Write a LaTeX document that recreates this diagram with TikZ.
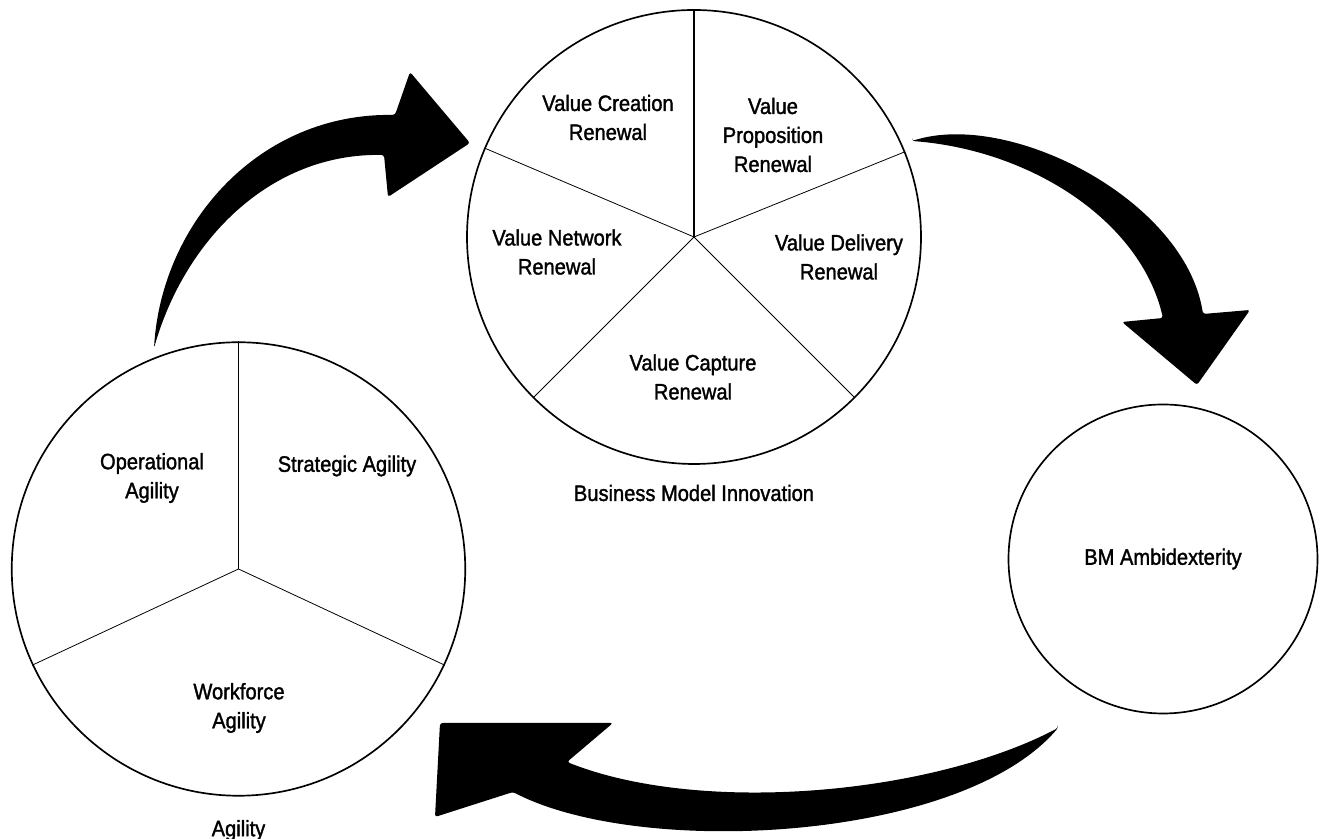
\documentclass[tikz,border=0pt]{standalone}
\usepackage{fontspec}
\setmainfont[FakeStretch=0.9, FakeBold=1.5]{Liberation Sans}
\usetikzlibrary{positioning}
\definecolor{fg}{RGB}{0,0,0}
\definecolor{bg}{RGB}{255,255,255}
\tikzset{
  every picture/.style={fg, line width=0.7pt, line join=round},
  every node/.style={font=\fontsize{12.7}{16.5}\selectfont, align=center},
  % Kreise und Sektoren
  wheel/.style={circle, draw, line width=0.95pt, inner sep=0pt},
  spoke/.style={line width=0.45pt},
  hub/.style={line width=1pt},
  % Pfeile als gefuellte Flaechen
  bigarrow/.style={fill=fg, draw=none, rounded corners=1.5pt},
}

\begin{document}
\begin{tikzpicture}
  \useasboundingbox (0,0) rectangle (26.46,16.78);
  % drei Kreise
  \node[wheel, minimum size=9.08cm] (bmi) at (13.88,12.04) {};
  \node[wheel, minimum size=9.07cm] (agil) at (4.77,5.40) {};
  \node[wheel, minimum size=6.18cm] (amb) at (23.26,5.60) {BM Ambidexterity};
  % Sektoren BMI (fuenf Teile)
  \draw[hub] (bmi.center) -- (bmi.north);
  \foreach \a in {157.5,22.5,225,315}
    \draw[spoke] (bmi.center) -- (bmi.\a);
  % Sektoren Agility (drei Teile)
  \draw[hub] (agil.center) -- (agil.north);
  \foreach \a in {205,335}
    \draw[spoke] (agil.center) -- (agil.\a);
  % Beschriftung der Sektoren
  \node (vcr) at (12.16,14.43) {Value Creation\\Renewal};
  \node (vpr) at (15.46,14.08) {Value\\Proposition\\Renewal};
  \node (vnr) at (11.14,11.74) {Value Network\\Renewal};
  \node (vdr) at (16.78,11.64) {Value Delivery\\Renewal};
  \node (vcp) at (13.86,9.24) {Value Capture\\Renewal};
  \node (opa) at (3.04,7.22) {Operational\\Agility};
  \node (sta) at (6.94,7.46) {Strategic Agility};
  \node (wfa) at (4.78,2.62) {Workforce\\Agility};
  % Titel unter den Kreisen
  \node[below=0.27cm of bmi] (bmilbl) {Business Model Innovation};
  \node[below=0.34cm of agil] (agillbl) {Agility};
  % Pfeil: Agility -> BMI
  \fill[bigarrow] (3.08,9.82) .. controls (3.24,12.34) and (5.20,14.52) .. (7.90,14.48)
    -- (8.20,15.34) -- (9.40,13.92) -- (7.76,12.84) -- (7.68,13.68)
    .. controls (5.40,13.72) and (3.70,11.98) .. cycle;
  % Pfeil: BMI -> Ambidexterity
  \fill[bigarrow] (18.24,13.96) .. controls (20.20,14.58) and (23.70,12.78) .. (24.06,10.50)
    -- (25.00,10.58) -- (23.94,9.08) -- (22.44,10.34) -- (23.26,10.42)
    .. controls (22.80,12.38) and (20.60,13.78) .. cycle;
  % Pfeil: Ambidexterity -> Agility
  \fill[bigarrow] (21.16,2.22) .. controls (18.60,0.88) and (14.00,0.48) .. (11.34,1.54)
    -- (12.26,2.32) -- (8.80,2.32) -- (8.70,0.44) -- (10.26,0.94)
    .. controls (12.80,-0.38) and (19.20,-0.06) .. cycle;
\end{tikzpicture}
\end{document}
